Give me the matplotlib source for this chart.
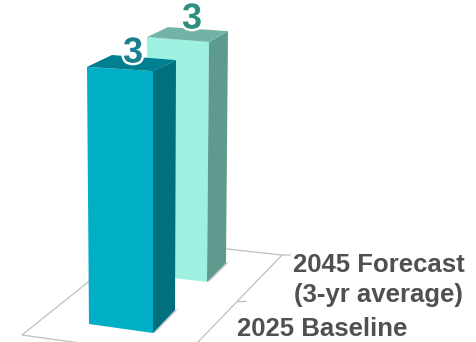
import matplotlib
matplotlib.use("Agg")
import matplotlib.pyplot as plt
import matplotlib.patheffects as pe
from matplotlib.patches import Polygon

categories = ["2025 Baseline", "2045 Forecast\n(3-yr average)"]
values = [3, 3]
value_labels = ["3", "3"]

# pixel layout of the fake 3d, (x at floor, y at floor, x at top, px per unit)
# corners go front left, front right, back right, back left
corners = [
    [(89, 324, 87, 85.7), (153, 333, 153, 87.3), (175, 310, 176, 83.3), (111, 301, 112, 82.0)],
    [(149, 275, 147, 79.3), (207, 282, 209, 80.0), (226, 263, 228, 77.3), (168, 256, 168, 76.3)],
]
front_colors = ["#00AEC5", "#9DF1E0"]
side_colors = ["#006F7E", "#5F9A8E"]
top_colors = ["#007F90", "#72B3A6"]
label_colors = ["#1A7F8E", "#2E8F7E"]
label_pos = [(133, 53), (192, 19)]
text_pos = [(237, 329), (293, 265), (294, 295)]

fig = plt.figure(figsize=(4.77, 3.42), dpi=100)
ax = fig.add_axes([0, 0, 1, 1])
ax.set_xlim(0, 477)
ax.set_ylim(342, 0)
ax.axis("off")

# floor
line = dict(color="#BFBFBF", lw=0.9, zorder=1)
ax.plot([92, 22, 80], [279, 335, 343], **line)
ax.plot([198, 282], [342, 255], **line)
ax.plot([227, 282, 290], [249, 255, 255], **line)
ax.plot([238, 245], [301, 301], **line)


def draw_bar(i, value, z):
    c = corners[i]
    bottom = [(p[0], p[1]) for p in c]
    top = [(p[2], p[1] - value * p[3]) for p in c]
    # soft shadow on the floor
    for grow, alpha in [(5, 0.10), (3.5, 0.15), (2, 0.2)]:
        shadow = [bottom[1], (bottom[1][0] + grow, bottom[1][1] - grow + 2),
                  (bottom[2][0] + grow, bottom[2][1] - grow + 2), bottom[2]]
        ax.add_patch(Polygon(shadow, fc="#707070", ec="none", alpha=alpha, zorder=z))
    ax.add_patch(Polygon([bottom[0], bottom[1], top[1], top[0]], fc=front_colors[i], ec="none", zorder=z + 1))
    ax.add_patch(Polygon([bottom[1], bottom[2], top[2], top[1]], fc=side_colors[i], ec="none", zorder=z + 1))
    ax.add_patch(Polygon(top, fc=top_colors[i], ec="none", zorder=z + 1))


draw_bar(1, values[1], 2)
draw_bar(0, values[0], 5)

for i in range(2):
    ax.text(label_pos[i][0], label_pos[i][1], value_labels[i], color=label_colors[i],
            fontsize=26, fontweight="bold", family="Liberation Sans", ha="center", va="center", zorder=9,
            path_effects=[pe.withStroke(linewidth=3.5, foreground="white")])

font = dict(color="#505050", fontsize=18.5, fontweight="bold", family="Liberation Sans", va="center", zorder=9)
first, second = categories[1].split("\n")
ax.text(text_pos[0][0], text_pos[0][1], categories[0], **font)
ax.text(text_pos[1][0], text_pos[1][1], first, **font)
ax.text(text_pos[2][0], text_pos[2][1], second, **font)

fig.savefig("out.png", dpi=100)
